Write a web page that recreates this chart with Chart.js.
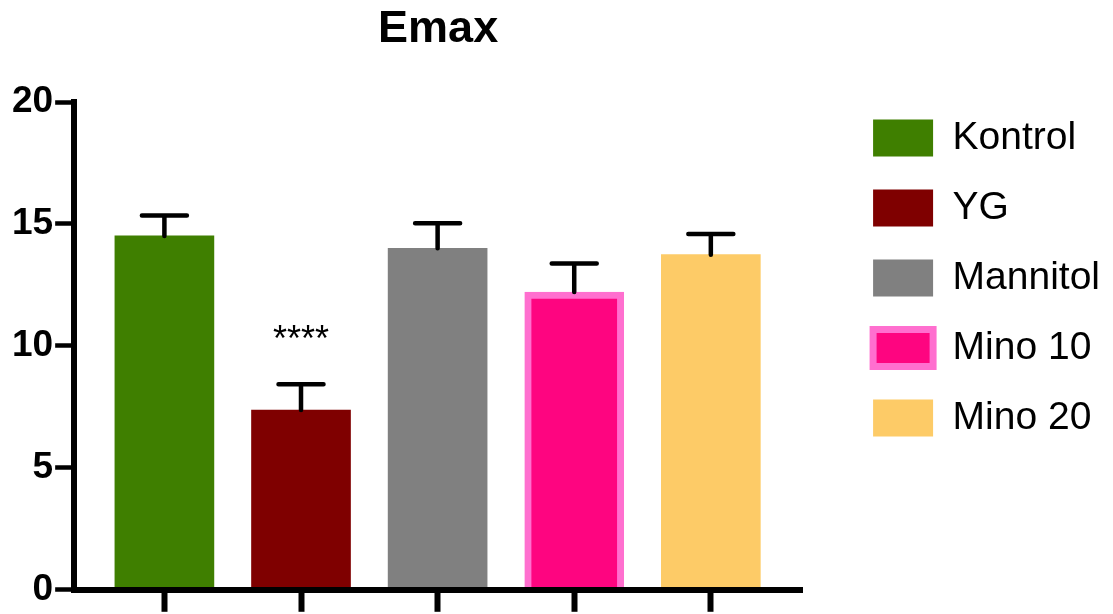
<!DOCTYPE html>
<html>
<head>
<meta charset="utf-8">
<script src="https://cdn.jsdelivr.net/npm/chart.js@4/dist/chart.umd.min.js"></script>
<style>
  html, body { margin: 0; padding: 0; background: #ffffff; }
  #wrap { width: 1113px; height: 614px; position: relative; }
</style>
</head>
<body>
<div id="wrap"><canvas id="c"></canvas></div>
<script>
// ---- data ----
const categories = ['Kontrol', 'YG', 'Mannitol', 'Mino 10', 'Mino 20'];
const values     = [14.51, 7.37, 14.00, 12.21, 13.74];
const errors     = [0.84, 1.06, 1.03, 1.17, 0.85];
const significance = ['', '****', '', '', ''];
const yTicks = [0, 5, 10, 15, 20];

// ---- styles ----
const fillColors   = ['#3F7F00', '#7F0000', '#808080', '#FE0580', '#FDCB67'];
const borderColors = ['#3F7F00', '#7F0000', '#808080', '#FF6FCF', '#FDCB67'];
const borderWidths = [0, 0, 0, 7, 0];
const FONT = "'Liberation Sans', Arial, Helvetica, sans-serif";

Chart.defaults.font.family = FONT;
Chart.defaults.color = '#000000';

const datasets = categories.map((name, i) => ({
  label: name,
  data: [{ x: i, y: values[i] }],
  backgroundColor: fillColors[i],
  borderColor: borderColors[i],
  borderWidth: borderWidths[i],
  borderSkipped: 'start',
  barThickness: 99,
  grouped: false
}));

// spacer box between the plot and the legend (not counted as a visible box)
const spacerPlugin = {
  id: 'spacer',
  beforeInit(chart) {
    Chart.layouts.addBox(chart, {
      id: 'spacerBox',
      position: 'right',
      weight: 500,
      fullSize: false,
      options: { display: false },
      width: 40, height: 0,
      left: 0, top: 0, right: 0, bottom: 0,
      isHorizontal() { return false; },
      update(maxWidth, maxHeight) { this.width = 40; this.height = maxHeight; },
      draw() {}
    });
  }
};

const errorBarPlugin = {
  id: 'errorBars',
  afterDatasetsDraw(chart) {
    const ctx = chart.ctx;
    const yScale = chart.scales.y;
    ctx.save();
    ctx.strokeStyle = '#000000';
    ctx.lineWidth = 4.5;
    ctx.lineCap = 'round';
    categories.forEach((name, i) => {
      const el = chart.getDatasetMeta(i).data[0];
      if (!el) return;
      const x = el.x;
      const yBase = yScale.getPixelForValue(values[i]);
      const yTop = yScale.getPixelForValue(values[i] + errors[i]);
      ctx.beginPath();
      ctx.moveTo(x, yBase);
      ctx.lineTo(x, yTop);
      ctx.moveTo(x - 22.5, yTop);
      ctx.lineTo(x + 22.5, yTop);
      ctx.stroke();
      if (significance[i]) {
        ctx.fillStyle = '#000000';
        ctx.font = '36px ' + FONT;
        ctx.textAlign = 'center';
        ctx.textBaseline = 'alphabetic';
        ctx.fillText(significance[i], x, yTop - 33);
      }
    });
    ctx.restore();
  }
};

new Chart(document.getElementById('c'), {
  type: 'bar',
  data: { datasets },
  plugins: [spacerPlugin, errorBarPlugin],
  options: {
    responsive: true,
    maintainAspectRatio: false,
    animation: false,
    layout: { padding: { left: 10, right: 3, top: 0, bottom: 0 } },
    plugins: {
      tooltip: { enabled: false },
      title: {
        display: true,
        text: 'Emax',
        fullSize: false,
        color: '#000000',
        font: { size: 45, weight: 'bold', family: FONT },
        padding: { top: 3, bottom: 45 }
      },
      legend: {
        display: true,
        position: 'right',
        align: 'start',
        title: { display: true, text: '', font: { size: 10 }, padding: { top: 75.5, bottom: 0 } },
        labels: {
          boxWidth: 60,
          boxHeight: 37,
          padding: 31,
          color: '#000000',
          font: { size: 39, family: FONT }
        }
      }
    },
    scales: {
      x: {
        type: 'linear',
        min: -0.6606,
        max: 4.668,
        offset: false,
        afterBuildTicks(scale) {
          scale.ticks = categories.map((_, i) => ({ value: i }));
        },
        ticks: { display: false },
        grid: {
          display: true,
          offset: false,
          drawOnChartArea: false,
          drawTicks: true,
          tickLength: 22,
          tickWidth: 6,
          tickColor: '#000000',
          color: '#000000'
        },
        border: { display: true, color: '#000000', width: 6, z: 1 }
      },
      y: {
        min: 0,
        max: 20,
        afterBuildTicks(scale) {
          scale.ticks = yTicks.map(v => ({ value: v }));
        },
        ticks: {
          color: '#000000',
          padding: 2,
          font: { size: 37, weight: 'bold', family: FONT }
        },
        grid: {
          display: true,
          drawOnChartArea: false,
          drawTicks: true,
          tickLength: 19,
          tickWidth: 4.5,
          tickColor: '#000000',
          color: '#000000'
        },
        border: { display: true, color: '#000000', width: 6, z: 1 }
      }
    }
  }
});
</script>
</body>
</html>
